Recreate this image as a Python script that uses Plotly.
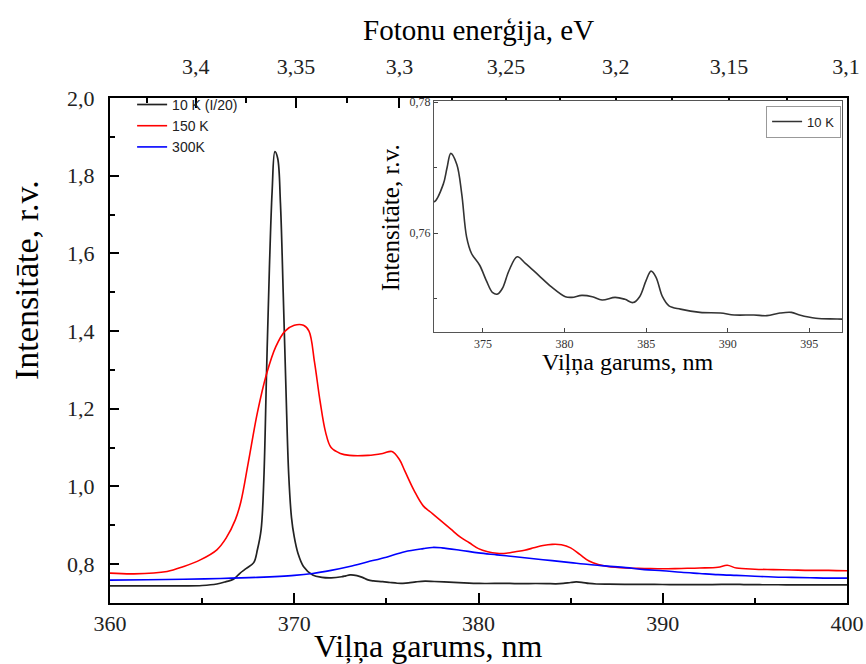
import plotly.graph_objects as go

# Wavelength (nm) and intensity (r.v.) of the luminescence spectra
black_nm = [360, 362, 364, 365, 365.8, 366.3, 366.7, 367.05, 367.4, 367.8, 368.0, 368.2,
            368.35, 368.5, 368.65, 368.8, 368.95, 369.1, 369.25, 369.4, 369.55, 369.7,
            369.85, 370.0, 370.2, 370.5, 371.0, 371.5, 372.0, 372.57, 372.8, 373.03,
            373.4, 373.7, 374.0, 374.3, 374.8, 375.2, 375.6, 375.9, 376.2, 376.6, 377.1,
            377.6, 378.4, 379.2, 380.05, 380.45, 381.06, 381.7, 382.3, 383.1, 383.7,
            384.2, 384.6, 385.0, 385.3, 385.6, 386.0, 386.4, 387.1, 388.3, 389.55, 390.4,
            391.6, 392.4, 393.2, 393.9, 394.4, 395.4, 396.7, 398, 400]
black_int = [0.744, 0.744, 0.744, 0.745, 0.749, 0.755, 0.761, 0.7765, 0.789, 0.804, 0.837,
             0.888, 1.02, 1.30, 1.56, 1.76, 1.862, 1.845, 1.73, 1.50, 1.25, 1.03, 0.92,
             0.87, 0.828, 0.794, 0.772, 0.766, 0.7648, 0.7675, 0.770, 0.7722, 0.7705,
             0.766, 0.7594, 0.7569, 0.7551, 0.7528, 0.7509, 0.7507, 0.7516, 0.7543,
             0.7564, 0.7554, 0.7536, 0.7518, 0.7503, 0.7502, 0.7505, 0.7503, 0.7498,
             0.7502, 0.7499, 0.7494, 0.7503, 0.7528, 0.7542, 0.7533, 0.7503, 0.7489,
             0.7484, 0.7479, 0.7478, 0.7475, 0.7475, 0.7474, 0.7478, 0.7479, 0.7475,
             0.7470, 0.7469, 0.7468, 0.7467]

red_nm = [360, 361.3, 363.1, 364.0, 364.9, 365.8, 366.3, 366.8, 367.1, 367.5, 368.0, 368.5,
          369.0, 369.5, 370.0, 370.5, 370.8, 371.1, 371.4, 371.7, 372.0, 372.5, 373.0,
          374.0, 374.8, 375.3, 375.7, 376.0, 376.5, 377.0, 377.5, 378.0, 378.5, 379.0,
          379.5, 380.0, 380.5, 381.0, 381.5, 382.0, 382.5, 383.0, 383.5, 384.0, 384.5,
          385.0, 385.5, 386.0, 386.5, 387, 388, 389, 390, 391, 392, 393, 393.5, 394, 395,
          396, 397, 398, 399, 400]
red_int = [0.777, 0.775, 0.781, 0.794, 0.811, 0.837, 0.867, 0.914, 0.96, 1.06, 1.19, 1.29,
           1.36, 1.40, 1.415, 1.415, 1.40, 1.32, 1.22, 1.14, 1.10, 1.085, 1.08, 1.08,
           1.085, 1.09, 1.07, 1.04, 0.99, 0.95, 0.93, 0.91, 0.89, 0.87, 0.855, 0.84,
           0.832, 0.828, 0.828, 0.832, 0.836, 0.842, 0.848, 0.851, 0.850, 0.842, 0.825,
           0.808, 0.799, 0.794, 0.79, 0.789, 0.788, 0.789, 0.79, 0.792, 0.797, 0.79,
           0.787, 0.786, 0.785, 0.784, 0.784, 0.783]

blue_nm = [360, 362, 364, 366, 368, 370, 371, 372, 373, 374, 375, 376, 377, 377.5, 378,
           379, 380, 381, 382, 383, 384, 385, 386, 387, 388, 389, 390, 391, 392, 393,
           394, 395, 396, 397, 398, 399, 400]
blue_int = [0.759, 0.760, 0.761, 0.763, 0.766, 0.771, 0.776, 0.784, 0.794, 0.806, 0.818,
            0.832, 0.840, 0.843, 0.842, 0.836, 0.829, 0.824, 0.819, 0.814, 0.809, 0.804,
            0.799, 0.795, 0.791, 0.786, 0.783, 0.779, 0.776, 0.773, 0.771, 0.769, 0.767,
            0.766, 0.765, 0.764, 0.764]

# Photon energy ticks (eV) for the top axis
energy_major = [3.4, 3.35, 3.3, 3.25, 3.2, 3.15, 3.1]
energy_minor = [3.425, 3.375, 3.325, 3.275, 3.225, 3.175, 3.125]
HC = 1239.84  # eV*nm

serif = "Liberation Serif"
sans = "Liberation Sans"

fig = go.Figure()
fig.add_trace(go.Scatter(x=black_nm, y=black_int, name="10 K (I/20)", mode="lines",
                         line=dict(color="#222222", width=1.7, shape="spline"),
                         legend="legend"))
fig.add_trace(go.Scatter(x=red_nm, y=red_int, name="150 K", mode="lines",
                         line=dict(color="#ff0000", width=1.6, shape="spline"),
                         legend="legend"))
fig.add_trace(go.Scatter(x=blue_nm, y=blue_int, name="300K", mode="lines",
                         line=dict(color="#0000ff", width=1.6, shape="spline"),
                         legend="legend"))
# carrier for the top energy axis
fig.add_trace(go.Scatter(x=[360, 400], y=[None, None], xaxis="x2", yaxis="y",
                         showlegend=False, hoverinfo="skip", mode="lines"))
# inset: low-temperature spectrum tail
fig.add_trace(go.Scatter(x=black_nm, y=black_int, name="10 K", mode="lines",
                         line=dict(color="#333333", width=1.6, shape="spline"),
                         xaxis="x3", yaxis="y3", legend="legend2"))

axis_common = dict(showgrid=False, zeroline=False, showline=True, linecolor="black",
                   linewidth=2, ticks="inside", tickcolor="black", tickwidth=1.5,
                   automargin=False,
                   tickfont=dict(family=serif, size=22, color="#222"))

fig.update_layout(
    width=866, height=664,
    margin=dict(l=110, r=19, t=98, b=61),
    paper_bgcolor="white", plot_bgcolor="white",
    separators=", ",
    xaxis=dict(**axis_common, range=[360, 400], tick0=360, dtick=10, ticklen=10,
               ticklabelstandoff=0,
               minor=dict(dtick=5, ticks="inside", ticklen=5, tickcolor="black",
                          tickwidth=1.5)),
    xaxis2=dict(**axis_common, overlaying="x", side="top", range=[360, 400],
                tickmode="array", tickvals=[HC / e for e in energy_major],
                ticktext=[f"{e:g}".replace(".", ",") for e in energy_major],
                ticklen=10, ticklabelstandoff=13,
                minor=dict(tickmode="array", tickvals=[HC / e for e in energy_minor],
                           ticks="inside", ticklen=5, tickcolor="black", tickwidth=1.5)),
    yaxis=dict(**axis_common, range=[0.7, 2.0], tick0=0, dtick=0.2, tickformat=".1f",
               ticklen=9, mirror=True, ticklabelstandoff=9,
               minor=dict(dtick=0.1, ticks="inside", ticklen=5, tickcolor="black",
                          tickwidth=1.5)),
    xaxis3=dict(domain=[0.4396, 0.9932], anchor="y3", range=[372, 397], tick0=375,
                dtick=5, showgrid=False, zeroline=False, showline=True, mirror=True,
                linecolor="#555", linewidth=1.3, ticks="inside", ticklen=4,
                automargin=False,
                tickcolor="#444", tickfont=dict(family=serif, size=12, color="#333")),
    yaxis3=dict(domain=[0.5366, 0.9941], anchor="x3", range=[0.7449, 0.7802], tick0=0,
                dtick=0.02, tickformat=".2f", showgrid=False, zeroline=False,
                showline=True, mirror=True, linecolor="#555", linewidth=1.3,
                automargin=False,
                ticks="inside", ticklen=4, tickcolor="#444",
                tickfont=dict(family=serif, size=12, color="#333"),
                minor=dict(dtick=0.01, ticks="inside", ticklen=3, tickcolor="#444")),
    legend=dict(x=0.030, y=1.018, xanchor="left", yanchor="top",
                bgcolor="rgba(0,0,0,0)", font=dict(family=sans, size=14, color="#222"),
                tracegroupgap=0),
    legend2=dict(x=0.992, y=0.985, xanchor="right", yanchor="top", bgcolor="white",
                 bordercolor="#999", borderwidth=1,
                 font=dict(family=sans, size=13, color="#222")),
    annotations=[
        dict(text="Fotonu enerģija, eV", x=0.5, y=1.1347, xref="paper", yref="paper",
             xanchor="center", yanchor="middle", showarrow=False,
             font=dict(family=serif, size=29, color="black")),
        dict(text="Viļņa garums, nm", x=0.4315, y=-0.0851, xref="paper", yref="paper",
             xanchor="center", yanchor="middle", showarrow=False,
             font=dict(family=serif, size=32, color="black")),
        dict(text="Intensitāte, r.v.", x=-0.114, y=0.6396, xref="paper", yref="paper",
             xanchor="center", yanchor="middle", showarrow=False, textangle=-90,
             font=dict(family=serif, size=34, color="black")),
        dict(text="Intensitāte, r.v.", x=0.380, y=0.762, xref="paper", yref="paper",
             xanchor="center", yanchor="middle", showarrow=False, textangle=-90,
             font=dict(family=serif, size=25, color="black")),
        dict(text="Viļņa garums, nm", x=0.703, y=0.477, xref="paper", yref="paper",
             xanchor="center", yanchor="middle", showarrow=False,
             font=dict(family=serif, size=24, color="black")),
    ],
)

fig.write_html("out.html")
